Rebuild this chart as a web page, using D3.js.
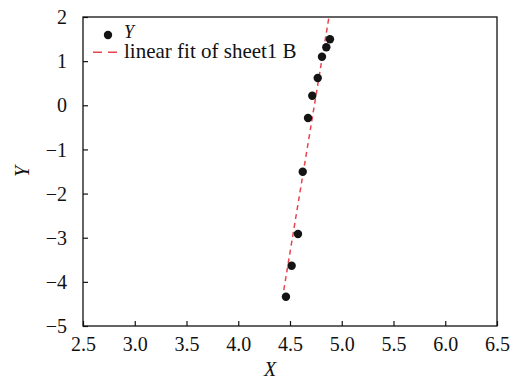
<!DOCTYPE html>
<meta charset="utf-8">
<title>Linear fit</title>
<style>
body { margin: 0; background: #fff; }
text { font-family: "Liberation Serif", "Times New Roman", serif; fill: #111; }
</style>
<body>
<script src="https://cdn.jsdelivr.net/npm/d3@7"></script>
<script>

var xData = [4.461, 4.516, 4.577, 4.623, 4.674, 4.715, 4.768, 4.809, 4.851, 4.886],
    yData = [-4.337, -3.634, -2.916, -1.505, -0.288, 0.217, 0.618, 1.10, 1.314, 1.495];

var xTicks = [2.5, 3.0, 3.5, 4.0, 4.5, 5.0, 5.5, 6.0, 6.5],
    yTicks = [-5, -4, -3, -2, -1, 0, 1, 2];

var fitSlope = 14.17,
    fitIntercept = -67.1,
    fitRange = [4.44, 4.93];

var w = 525, h = 381,
    pl = 83, pr = 497, pt = 17, pb = 326;

var x = d3.scaleLinear().domain([2.5, 6.5]).range([pl, pr]),
    y = d3.scaleLinear().domain([-5, 2]).range([pb, pt]);

var svg = d3.select("body").append("svg")
    .attr("width", w)
    .attr("height", h);

svg.append("clipPath").attr("id", "clip")
  .append("rect")
    .attr("x", pl).attr("y", pt)
    .attr("width", pr - pl).attr("height", pb - pt);

// fit line
svg.append("line")
    .attr("clip-path", "url(#clip)")
    .attr("x1", x(fitRange[0])).attr("y1", y(fitSlope * fitRange[0] + fitIntercept))
    .attr("x2", x(fitRange[1])).attr("y2", y(fitSlope * fitRange[1] + fitIntercept))
    .attr("stroke", "#e8444e")
    .attr("stroke-width", 1.5)
    .attr("stroke-dasharray", "5,4");

// points
svg.selectAll("circle.pt")
    .data(d3.range(xData.length))
  .enter().append("circle")
    .attr("class", "pt")
    .attr("cx", function(i) { return x(xData[i]); })
    .attr("cy", function(i) { return y(yData[i]); })
    .attr("r", 4.2)
    .attr("fill", "#141414");

// axes
var fmtY = function(d) { return d < 0 ? "\u2212" + Math.abs(d) : d; };

var xAxis = svg.append("g")
    .attr("transform", "translate(0," + pb + ")")
    .call(d3.axisBottom(x).tickValues(xTicks).tickFormat(d3.format(".1f")).tickSizeInner(-5).tickSizeOuter(0));

var yAxis = svg.append("g")
    .attr("transform", "translate(" + pl + ",0)")
    .call(d3.axisLeft(y).tickValues(yTicks).tickFormat(fmtY).tickSizeInner(-5).tickSizeOuter(0));

[xAxis, yAxis].forEach(function(g) {
  g.select(".domain").remove();
  g.selectAll(".tick line").attr("stroke", "#111").attr("stroke-width", 1.2);
  g.selectAll(".tick text").style("font-size", "20px").attr("fill", "#111");
});
xAxis.selectAll(".tick text").attr("y", 25).attr("dy", 0);
yAxis.selectAll(".tick text").attr("x", -16).attr("dy", "0.33em");

svg.append("rect")
    .attr("x", pl).attr("y", pt)
    .attr("width", pr - pl).attr("height", pb - pt)
    .attr("fill", "none")
    .attr("stroke", "#111")
    .attr("stroke-width", 1.3);

// axis titles
svg.append("text")
    .attr("x", 270).attr("y", 376)
    .attr("text-anchor", "middle")
    .style("font-size", "20px").style("font-style", "italic")
    .text("X");

svg.append("text")
    .attr("transform", "translate(29," + ((pt + pb) / 2) + ") rotate(-90)")
    .attr("text-anchor", "middle")
    .style("font-size", "20px").style("font-style", "italic")
    .text("Y");

// legend
svg.append("circle")
    .attr("cx", 108).attr("cy", 35).attr("r", 4.2).attr("fill", "#141414");
svg.append("text")
    .attr("x", 124).attr("y", 38)
    .style("font-size", "18px").style("font-style", "italic")
    .text("Y");
svg.append("line")
    .attr("x1", 93).attr("x2", 118).attr("y1", 52.3).attr("y2", 52.3)
    .attr("stroke", "#e8444e").attr("stroke-width", 1.5)
    .attr("stroke-dasharray", "9,6");
svg.append("text")
    .attr("x", 124).attr("y", 58)
    .style("font-size", "21px")
    .text("linear fit of sheet1 B");

</script>
